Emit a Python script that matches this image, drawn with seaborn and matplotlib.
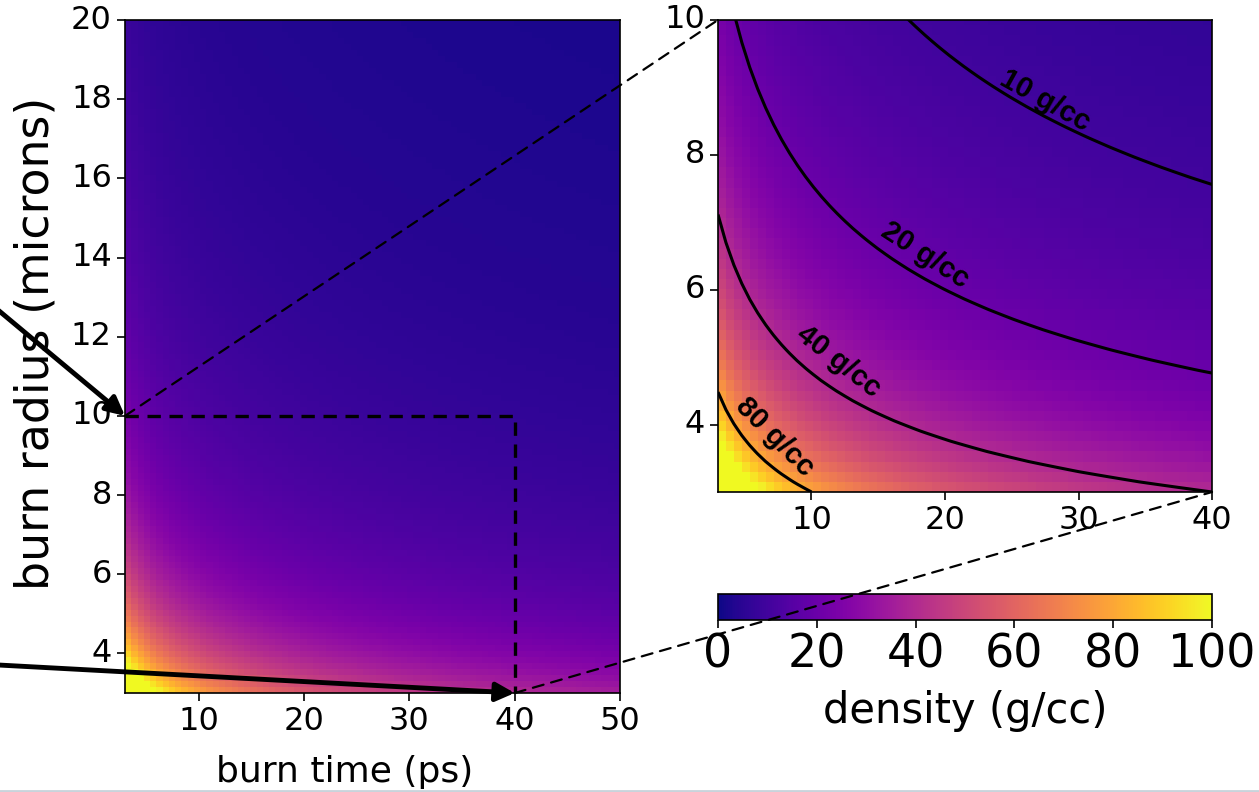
import numpy as np
import pandas as pd
import matplotlib
matplotlib.use("Agg")
import matplotlib.pyplot as plt
import seaborn as sns
from matplotlib.patches import ConnectionPatch
from matplotlib.lines import Line2D

# grid of the density map (cell edges)
burn_time_edges = np.linspace(3, 50, 80)      # ps
burn_radius_edges = np.linspace(3, 20, 114)   # microns

# power law: 40 g/cc at (40 ps, 3 um),
# density doubles when radius drops by 2**(2/3) or time drops by 4
rho_ref = 40.0
t_ref, r_ref = 40.0, 3.0
t_exp, r_exp = 0.5, 1.5

contour_levels = [10, 20, 40, 80]
label_spots = [(27.5, 8.81), (18.5, 6.51), (12.0, 4.93), (7.27, 3.81)]  # (ps, um)
label_angles = [-29, -33, -38, -45]
zoom_time = (3, 40)
zoom_radius = (3, 10)

left_xticks = [10, 20, 30, 40, 50]
left_yticks = [4, 6, 8, 10, 12, 14, 16, 18, 20]
inset_xticks = [10, 20, 30, 40]
inset_yticks = [4, 6, 8, 10]
cbar_ticks = [0, 20, 40, 60, 80, 100]


def model(t, r):
    return rho_ref * np.outer((r_ref / r) ** r_exp, (t_ref / t) ** t_exp)


tc = 0.5 * (burn_time_edges[:-1] + burn_time_edges[1:])
rc = 0.5 * (burn_radius_edges[:-1] + burn_radius_edges[1:])
density = pd.DataFrame(model(tc, rc), index=np.round(rc, 2), columns=np.round(tc, 2))
# same field sampled on the cell edges so contours reach the frame
dens_edges = model(burn_time_edges, burn_radius_edges)

dt = burn_time_edges[1] - burn_time_edges[0]
dr = burn_radius_edges[1] - burn_radius_edges[0]


def tx(t):
    # burn time -> heatmap column coordinate
    return (np.asarray(t, dtype=float) - burn_time_edges[0]) / dt


def ry(r):
    # burn radius -> heatmap row coordinate
    return (np.asarray(r, dtype=float) - burn_radius_edges[0]) / dr


def restore_frame(a):
    for s in a.spines.values():
        s.set_visible(True)
        s.set_color("black")
        s.set_linewidth(1.2)
    a.tick_params(axis="both", length=6, width=1.2, color="black",
                  labelsize=23, direction="out")


fig = plt.figure(figsize=(12.59, 7.92), dpi=100)

# ---- full map ----
ax = fig.add_axes([0.0993, 0.125, 0.3932, 0.8497])
sns.heatmap(density, ax=ax, cmap="plasma", vmin=0, vmax=100, cbar=False)
ax.set_xlim(0, len(tc))
ax.set_ylim(0, len(rc))
ax.set_xticks(tx(left_xticks))
ax.set_xticklabels([str(v) for v in left_xticks], rotation=0)
ax.set_yticks(ry(left_yticks))
ax.set_yticklabels([str(v) for v in left_yticks], rotation=0)
restore_frame(ax)
ax.set_xlabel("burn time (ps)", fontsize=26)
ax.set_ylabel("burn radius (microns)", fontsize=33)
ax.xaxis.set_label_coords(0.444, -0.092)
ax.yaxis.set_label_coords(-0.134, 0.52)

# zoom box
ax.plot(tx([zoom_time[0], zoom_time[1], zoom_time[1]]),
        ry([zoom_radius[1], zoom_radius[1], zoom_radius[0]]),
        color="black", ls="--", lw=2.4, dashes=(4, 2.6), clip_on=False)

# ---- inset ----
axi = fig.add_axes([0.5703, 0.3788, 0.3924, 0.596])
cax = fig.add_axes([0.5703, 0.2172, 0.3924, 0.0328])
sns.heatmap(density, ax=axi, cmap="plasma", vmin=0, vmax=100, cbar_ax=cax,
            cbar_kws={"orientation": "horizontal"})
axi.set_xlim(tx(zoom_time[0]), tx(zoom_time[1]))
axi.set_ylim(ry(zoom_radius[0]), ry(zoom_radius[1]))
axi.set_xticks(tx(inset_xticks))
axi.set_xticklabels([str(v) for v in inset_xticks], rotation=0)
axi.set_yticks(ry(inset_yticks))
axi.set_yticklabels([str(v) for v in inset_yticks], rotation=0)
axi.set_xlabel("")
axi.set_ylabel("")
restore_frame(axi)

axi.contour(tx(burn_time_edges), ry(burn_radius_edges), dens_edges,
            levels=contour_levels, colors="black", linewidths=2.2)
for lev, (t, r), ang in zip(contour_levels, label_spots, label_angles):
    axi.text(tx(t), ry(r), f"{lev} g/cc", rotation=ang, rotation_mode="anchor",
             ha="center", va="center", fontsize=21, fontweight="bold",
             family="Liberation Sans", color="black")

cb = axi.collections[0].colorbar
cb.outline.set_visible(True)
cb.outline.set_linewidth(1.2)
cb.outline.set_edgecolor("black")
cb.set_ticks(cbar_ticks)
cax.tick_params(labelsize=33, length=6, width=1.2, color="black", pad=3)
cb.set_label("density (g/cc)", fontsize=30, labelpad=9)

# ---- connectors ----
for t, r in [(zoom_time[0], zoom_radius[1]), (zoom_time[1], zoom_radius[0])]:
    con = ConnectionPatch(xyA=(tx(t), ry(r)), coordsA=ax.transData,
                          xyB=(tx(t), ry(r)), coordsB=axi.transData,
                          color="black", lw=1.6, linestyle=(0, (5, 3.5)))
    fig.add_artist(con)

# pointer arrows from outside the frame
for (t, r), start in [((zoom_time[0], zoom_radius[1]), (-20, 497)),
                      ((zoom_time[1], zoom_radius[0]), (-20, 128))]:
    ax.annotate("", xy=(tx(t), ry(r)), xycoords="data",
                xytext=start, textcoords="figure pixels",
                arrowprops=dict(arrowstyle="-|>", lw=3.5, color="black",
                                mutation_scale=28, shrinkA=0, shrinkB=0),
                annotation_clip=False)

# thin screenshot edge along the bottom
fig.add_artist(Line2D([0, 1], [0.0015, 0.0015], transform=fig.transFigure,
                      color="#c9d3db", lw=2))

fig.savefig("out.png", dpi=100)
